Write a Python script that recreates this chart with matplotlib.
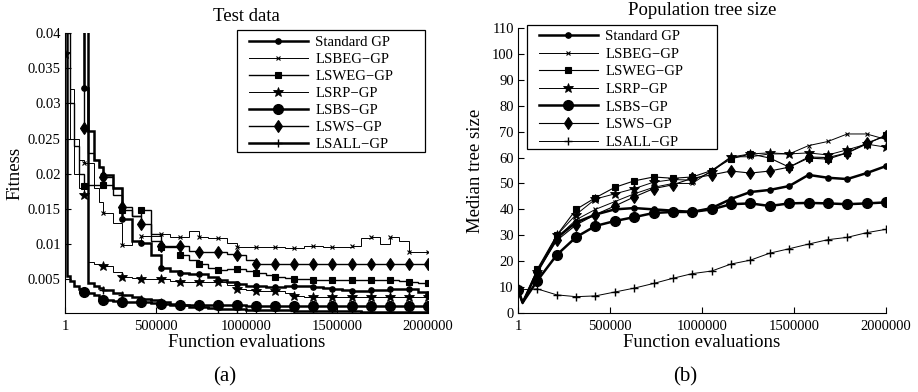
import matplotlib
matplotlib.use("Agg")
import matplotlib.pyplot as plt
from matplotlib.lines import Line2D
from matplotlib.patches import Rectangle
import numpy as np

plt.rcParams["font.family"] = ["Liberation Serif", "DejaVu Serif"]

# ---------------------------------------------------------------- data
LABELS = ["Standard GP", "LSBEG\u2212GP", "LSWEG\u2212GP", "LSRP\u2212GP",
          "LSBS\u2212GP", "LSWS\u2212GP", "LSALL\u2212GP"]

N_EVALS = 2000000
MARK_STEP = N_EVALS / 19          # one marker every 1/19 of the run

# sample positions (function evaluations) for the test-fitness curves
X_FIT = ([1, 10000, 25000, 50000, 75000, MARK_STEP, 125000, 160000, 185000]
         + [MARK_STEP * k for k in np.arange(2, 19.01, 0.5)])

std_fit = [0.070, 0.065, 0.060, 0.055, 0.041, 0.0322, 0.026, 0.022, 0.021, 0.0198,
           0.018, 0.0135, 0.0105, 0.0102, 0.0085, 0.0066, 0.0062, 0.0059, 0.0058, 0.0057,
           0.0053, 0.0049, 0.0046, 0.0043, 0.0041, 0.0040, 0.0039, 0.0039, 0.0040, 0.0041,
           0.0040, 0.0039, 0.0037, 0.0036, 0.0034, 0.0033, 0.0033, 0.0034, 0.0035, 0.0036,
           0.0036, 0.0036, 0.0032, 0.0029]
lsbeg_fit = [0.060, 0.040, 0.032, 0.025, 0.022, 0.0215, 0.0215, 0.018, 0.016, 0.0144,
             0.013, 0.0098, 0.0105, 0.0112, 0.0112, 0.0115, 0.0110, 0.0110, 0.0118, 0.0110,
             0.0108, 0.0108, 0.0102, 0.0096, 0.0096, 0.0096, 0.0096, 0.0096, 0.0094, 0.0094,
             0.0097, 0.0097, 0.0096, 0.0096, 0.0096, 0.0097, 0.0108, 0.0110, 0.0100, 0.0110,
             0.0105, 0.0089, 0.0089, 0.0089]
lsweg_fit = [0.060, 0.040, 0.030, 0.024, 0.020, 0.0182, 0.0184, 0.0184, 0.0184, 0.0184,
             0.017, 0.0148, 0.014, 0.0148, 0.0115, 0.0096, 0.0096, 0.0084, 0.0078, 0.0072,
             0.0066, 0.0063, 0.0064, 0.0064, 0.0062, 0.0059, 0.0056, 0.0053, 0.0052, 0.0051,
             0.0050, 0.0049, 0.0049, 0.0049, 0.0049, 0.0049, 0.0049, 0.0049, 0.0049, 0.0049,
             0.0048, 0.0046, 0.0045, 0.0044]
lsrp_fit = [0.037, 0.030, 0.025, 0.020, 0.018, 0.017, 0.0075, 0.0072, 0.0070, 0.0069,
            0.0060, 0.0053, 0.0052, 0.0050, 0.0050, 0.0050, 0.0048, 0.0046, 0.0046, 0.0046,
            0.0046, 0.0046, 0.0042, 0.0036, 0.0034, 0.0033, 0.0033, 0.0033, 0.0030, 0.0026,
            0.0025, 0.0025, 0.0025, 0.0025, 0.0025, 0.0025, 0.0025, 0.0025, 0.0025, 0.0025,
            0.0025, 0.0025, 0.0025, 0.0025]
lsbs_fit = [0.060, 0.0055, 0.0048, 0.0040, 0.0036, 0.0032, 0.0030, 0.0027, 0.0025, 0.0021,
            0.0019, 0.0017, 0.0017, 0.0017, 0.0016, 0.0015, 0.0014, 0.0013, 0.0013, 0.0013,
            0.0013, 0.0013, 0.0013, 0.0013, 0.0012, 0.0012, 0.0012, 0.0012, 0.0012, 0.0012,
            0.0012, 0.0012, 0.0012, 0.0012, 0.0012, 0.0012, 0.0012, 0.0012, 0.0012, 0.0012,
            0.0012, 0.0012, 0.0012, 0.0012]
lsws_fit = [0.070, 0.065, 0.060, 0.055, 0.045, 0.0265, 0.023, 0.022, 0.021, 0.0195,
            0.018, 0.0152, 0.014, 0.0128, 0.0105, 0.0097, 0.0097, 0.0097, 0.0090, 0.0088,
            0.0088, 0.0088, 0.0086, 0.0084, 0.0078, 0.0071, 0.0071, 0.0071, 0.0071, 0.0071,
            0.0071, 0.0071, 0.0071, 0.0071, 0.0071, 0.0071, 0.0071, 0.0071, 0.0071, 0.0071,
            0.0071, 0.0071, 0.0071, 0.0071]
lsall_fit = [0.080, 0.080, 0.080, 0.080, 0.080, 0.080, 0.0045, 0.0041, 0.0038, 0.0035,
             0.0030, 0.0027, 0.0025, 0.0022, 0.0020, 0.0017, 0.0015, 0.0013, 0.0011, 0.0010,
             0.0009, 0.0008, 0.0007, 0.0007, 0.0006, 0.0006, 0.0006, 0.0006, 0.0006, 0.0005,
             0.0005, 0.0005, 0.0005, 0.0005, 0.0005, 0.0005, 0.0004, 0.0004, 0.0004, 0.0004,
             0.0004, 0.0004, 0.0004, 0.0004]

# sample positions for the median tree size curves
X_SIZE = [1, 25000] + [MARK_STEP * k for k in range(1, 20)]

std_size = [9, 4, 16, 29, 35, 38, 40, 40.5, 40, 39.5, 39, 40.5, 44, 46.7, 47.5, 49,
            53.3, 52.2, 51.7, 54, 56.7]
lsbeg_size = [9, 4, 16, 29, 36, 40, 43, 46, 48.5, 50, 50, 55, 60.3, 60.3, 61.4, 61.4,
              64.6, 66.2, 69.1, 69.1, 67]
lsweg_size = [9, 4, 17, 30, 40, 44.5, 48.5, 51, 52.5, 52, 52.5, 55, 59.5, 61.4, 59.8,
              56.3, 59.8, 59.4, 61.8, 65.2, 68.7]
lsrp_size = [9, 3.5, 16, 30, 38, 44, 46, 48, 50.5, 51.5, 51.3, 54.4, 60.2, 61.4, 61.8,
             61.4, 61.8, 61, 63, 65.2, 64]
lsbs_size = [9, 4, 12.5, 22.4, 29.3, 33.6, 35.5, 37, 38.6, 39, 39, 40, 42, 42.3, 41.3,
             42.3, 42.5, 42.3, 42, 42.3, 42.7]
lsws_size = [9, 4, 16, 28, 34, 38, 41.3, 44.8, 48, 49.5, 52, 53.3, 54.8, 54, 54.8, 56.3,
             60.2, 60, 61.8, 65.6, 68.3]
lsall_size = [9, 9, 9.3, 7, 6.3, 6.6, 8.1, 9.6, 11.4, 13.4, 15.2, 16.2, 18.9, 20.4, 23.1,
              24.8, 26.6, 28.3, 29.2, 31, 32.3]

FIT_SERIES = [std_fit, lsbeg_fit, lsweg_fit, lsrp_fit, lsbs_fit, lsws_fit, lsall_fit]
SIZE_SERIES = [std_size, lsbeg_size, lsweg_size, lsrp_size, lsbs_size, lsws_size, lsall_size]

FIT_TICKS = [0.005, 0.01, 0.015, 0.02, 0.025, 0.03, 0.035, 0.04]
FIT_TICKLABELS = ["0.005", "0.01", "0.015", "0.02", "0.025", "0.03", "0.035", "0.04"]
SIZE_TICKS = list(range(0, 111, 10))
X_TICKS = [1, 500000, 1000000, 1500000, 2000000]
X_TICKLABELS = ["1", "500000", "1000000", "1500000", "2000000"]

# ---------------------------------------------------------------- styles
MARKERS = ["o", "x", "s", "*", "o", "d", "+"]
MSIZES = [3.8, 3.5, 5.0, 7.0, 7.0, 6.0, 5.5]
MEW = [1.0, 0.8, 0.8, 0.6, 1.0, 0.8, 1.0]
LW_FIT = [1.8, 0.7, 1.0, 0.7, 1.8, 1.0, 1.8]
LW_SIZE = [1.8, 0.7, 0.8, 0.7, 1.8, 0.8, 0.7]

W, H = 918, 392
fig = plt.figure(figsize=(W / 100, H / 100), dpi=100)


def px_rect(x0, y0, x1, y1):
    """Figure-fraction rectangle from pixel corners (top-left origin)."""
    return [x0 / W, 1 - y1 / H, (x1 - x0) / W, (y1 - y0) / H]


ax1 = fig.add_axes(px_rect(65, 33, 428, 313))
ax2 = fig.add_axes(px_rect(518, 28, 886, 313))

fit_marks = [0, 5] + list(range(9, len(X_FIT), 2))
size_marks = [0] + list(range(2, len(X_SIZE)))

for i, ys in enumerate(FIT_SERIES):
    ax1.plot(X_FIT, ys, color="black", lw=LW_FIT[i], drawstyle="steps-post",
             marker=MARKERS[i], ms=MSIZES[i], mew=MEW[i], markevery=fit_marks,
             solid_joinstyle="miter")
for i, ys in enumerate(SIZE_SERIES):
    ax2.plot(X_SIZE, ys, color="black", lw=LW_SIZE[i],
             marker=MARKERS[i], ms=MSIZES[i], mew=MEW[i], markevery=size_marks)

TICK_FS = 10.5
LABEL_FS = 13.5
for ax in (ax1, ax2):
    ax.set_xlim(1, N_EVALS)
    ax.set_xticks(X_TICKS)
    ax.set_xticklabels(X_TICKLABELS)
    for s in ("top", "right"):
        ax.spines[s].set_visible(False)
    for s in ("left", "bottom"):
        ax.spines[s].set_linewidth(0.8)
    ax.tick_params(direction="in", length=4, width=0.8, labelsize=TICK_FS,
                   top=False, right=False)
    ax.tick_params(axis="y", pad=3)
    ax.tick_params(axis="x", pad=5)
    ax.set_xlabel("Function evaluations", fontsize=LABEL_FS)

ax1.set_ylim(0.0002, 0.04)
ax1.set_yticks(FIT_TICKS)
ax1.set_yticklabels(FIT_TICKLABELS)
ax2.set_ylim(0, 110)
ax2.set_yticks(SIZE_TICKS)

ax1.set_ylabel("Fitness", fontsize=LABEL_FS)
ax2.set_ylabel("Median tree size", fontsize=LABEL_FS)
ax1.yaxis.set_label_coords((23 - 65) / 363, 0.5)
ax2.yaxis.set_label_coords((484 - 518) / 368, 0.5)
ax1.xaxis.set_label_coords(0.5, (313 - 334) / 280)
ax2.xaxis.set_label_coords(0.5, (313 - 334) / 285)

ax1.set_title("Test data", fontsize=LABEL_FS, pad=8.5)
ax2.set_title("Population tree size", fontsize=LABEL_FS, pad=9.5)

# legends: frameless entries inside a hand-placed box
handles_fit = [Line2D([], [], color="black", lw=LW_FIT[i], marker=MARKERS[i],
                      ms=MSIZES[i], mew=MEW[i]) for i in range(7)]
handles_size = [Line2D([], [], color="black", lw=LW_SIZE[i], marker=MARKERS[i],
                       ms=MSIZES[i], mew=MEW[i]) for i in range(7)]

LEG_FS = 10.6
leg_kw = dict(frameon=False, fontsize=LEG_FS, handlelength=4.0, handletextpad=0.5,
              borderpad=0.0, borderaxespad=0.0, numpoints=1,
              loc="upper left", bbox_transform=fig.transFigure)
fig.legend(handles_fit, LABELS, bbox_to_anchor=(249 / W, 1 - 35.5 / H),
           labelspacing=0.25, **leg_kw)
fig.legend(handles_size, LABELS, bbox_to_anchor=(539 / W, 1 - 30 / H),
           labelspacing=0.29, **leg_kw)

for (x0, y0, x1, y1) in [(237, 30, 425, 152), (527, 25, 717, 149)]:
    r = px_rect(x0, y0, x1, y1)
    fig.add_artist(Rectangle((r[0], r[1]), r[2], r[3], transform=fig.transFigure,
                             fill=False, edgecolor="black", lw=0.9))

fig.text(225 / W, 1 - 377 / H, "(a)", fontsize=15, ha="center", va="center")
fig.text(685 / W, 1 - 377 / H, "(b)", fontsize=15, ha="center", va="center")

fig.savefig("out.png", dpi=100, facecolor="white")
